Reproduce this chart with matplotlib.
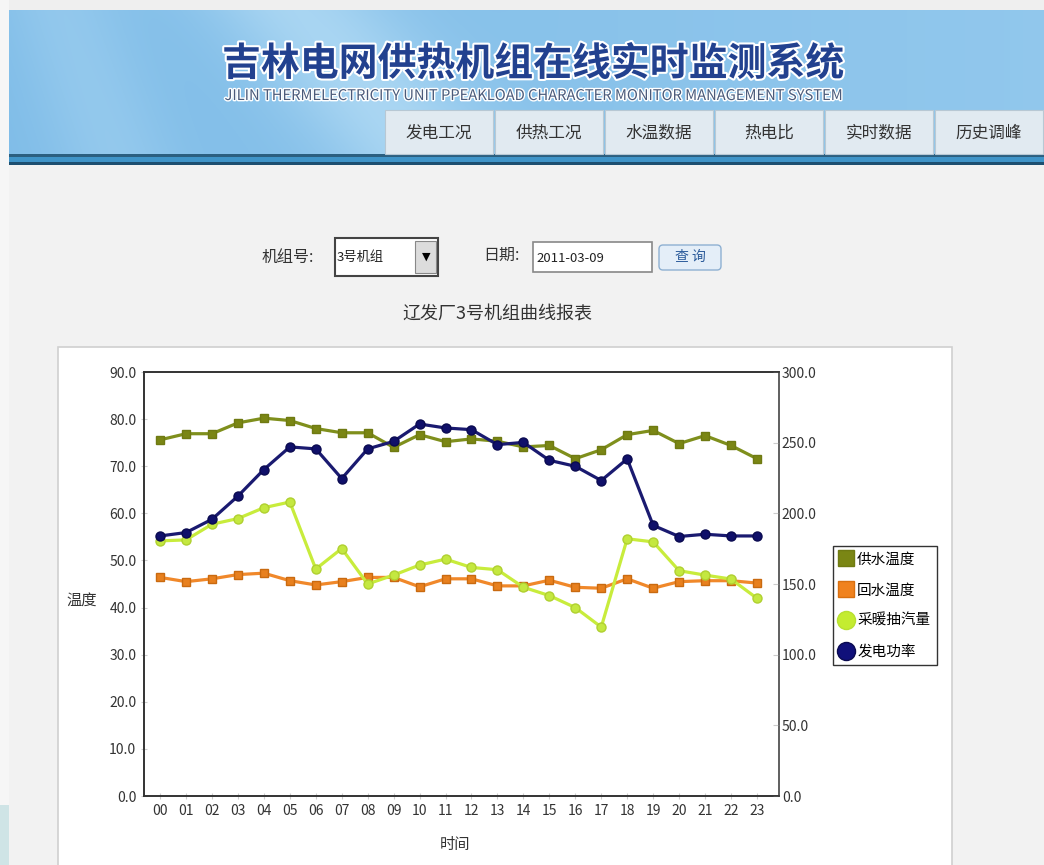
import numpy as np
import matplotlib
matplotlib.use('Agg')
import matplotlib.pyplot as plt
from matplotlib.patches import Rectangle, FancyBboxPatch
from matplotlib.lines import Line2D
import matplotlib.patheffects as pe

plt.rcParams['font.family'] = ['Noto Sans CJK SC', 'DejaVu Sans']
plt.rcParams['axes.unicode_minus'] = False

# data (hourly values)
hours = ['%02d' % h for h in range(24)]
supply_temp = [75.6, 76.9, 76.9, 79.2, 80.2, 79.7, 78.0, 77.1, 77.1, 74.0, 76.7, 75.2,
               75.8, 75.3, 74.1, 74.4, 71.6, 73.5, 76.7, 77.6, 74.8, 76.5, 74.4, 71.6]
return_temp = [46.4, 45.5, 46.1, 47.0, 47.3, 45.7, 44.8, 45.5, 46.4, 46.4, 44.4, 46.1,
               46.1, 44.6, 44.6, 45.8, 44.3, 44.1, 46.1, 44.1, 45.5, 45.7, 45.7, 45.2]
steam_flow = [180.5, 181.2, 192.3, 196.3, 204.0, 208.0, 160.6, 175.1, 150.0, 156.3, 163.4, 167.6,
              161.7, 160.1, 147.7, 141.8, 133.3, 119.5, 182.0, 179.8, 159.4, 156.3, 153.5, 139.9]
power = [184.0, 186.4, 195.8, 212.2, 231.0, 247.0, 245.6, 224.6, 245.6, 250.9, 263.2, 260.4,
         259.2, 248.6, 250.2, 237.5, 233.3, 223.2, 238.5, 191.5, 183.6, 185.2, 184.0, 184.0]

series_names = ['供水温度', '回水温度', '采暖抽汽量', '发电功率']
tabs = ['发电工况', '供热工况', '水温数据', '热电比', '实时数据', '历史调峰']

W, H = 1044, 865
fig = plt.figure(figsize=(W / 100, H / 100), dpi=100)
fig.patch.set_facecolor('#f2f2f2')

# page background drawn in pixel coordinates
bg = fig.add_axes([0, 0, 1, 1], zorder=0)
bg.set_xlim(0, W)
bg.set_ylim(H, 0)
bg.axis('off')

bg.add_patch(Rectangle((0, 0), W, 10, color='#efefef', lw=0))
bg.add_patch(Rectangle((0, 0), 9, H, color='#f6f6f6', lw=0))
bg.add_patch(Rectangle((0, 805), 9, 60, color='#cfe4e6', lw=0))

# banner gradient
bh, bw = 145, W - 9
xx, yy = np.meshgrid(np.linspace(0, 1, bw), np.linspace(0, 1, bh))
base = np.array([0.50, 0.74, 0.91])
light = np.array([0.70, 0.86, 0.96])
swoosh = np.exp(-((xx - 0.28 - 0.12 * yy) / 0.09) ** 2) * 0.7
swoosh += np.exp(-((xx - 0.05 - 0.05 * yy) / 0.06) ** 2) * 0.35
swoosh += 0.35 * xx
swoosh = np.clip(swoosh, 0, 1)
img = base[None, None, :] * (1 - swoosh[..., None]) + light[None, None, :] * swoosh[..., None]
bg.imshow(img, extent=(9, W, 155, 10), aspect='auto', zorder=1)

bg.add_patch(Rectangle((9, 154), W - 9, 3, color='#2b5f80', lw=0, zorder=2))
bg.add_patch(Rectangle((9, 157), W - 9, 5, color='#3f94c8', lw=0, zorder=2))
bg.add_patch(Rectangle((9, 162), W - 9, 3, color='#1d4f70', lw=0, zorder=2))

bg.text(533, 64, '吉林电网供热机组在线实时监测系统', fontsize=28, fontweight='bold',
        color='#22418f', ha='center', va='center', zorder=3,
        path_effects=[pe.withStroke(linewidth=3, foreground='white')])
bg.text(535, 96, 'JILIN THERMELECTRICITY UNIT PPEAKLOAD CHARACTER MONITOR MANAGEMENT SYSTEM',
        fontsize=10.6, color='#4a5a7a', ha='center', va='center', zorder=3,
        path_effects=[pe.withStroke(linewidth=2, foreground='white')])

for i, t in enumerate(tabs):
    x0 = 385 + i * 110
    bg.add_patch(Rectangle((x0, 110), 108, 44, facecolor='#e1eaf1', edgecolor='#b8c8d4',
                           lw=0.8, zorder=2))
    bg.text(x0 + 54, 133, t, fontsize=12, color='#333333', ha='center', va='center', zorder=3)

# query form
bg.text(262, 257, '机组号:', fontsize=11.5, color='#333333', va='center', zorder=3)
bg.add_patch(Rectangle((335, 238), 103, 38, facecolor='white', edgecolor='#444444', lw=1.5, zorder=2))
bg.add_patch(Rectangle((415, 241), 21, 32, facecolor='#dcdcdc', edgecolor='#888888', lw=0.8, zorder=3))
bg.text(426, 257, '▼', fontsize=8, color='black', ha='center', va='center', zorder=4,
        family=['DejaVu Sans'])
bg.text(337, 257, '3号机组', fontsize=9.5, color='#222222', va='center', zorder=4)
bg.text(483, 255, '日期:', fontsize=11.5, color='#333333', va='center', zorder=3)
bg.add_patch(Rectangle((533, 242), 119, 30, facecolor='white', edgecolor='#888888', lw=1.2, zorder=2))
bg.text(536, 258, '2011-03-09', fontsize=9.5, color='#222222', va='center', zorder=3)
bg.add_patch(FancyBboxPatch((659, 245), 62, 25, boxstyle='round,pad=0,rounding_size=4',
                            facecolor='#e4eef8', edgecolor='#8eb0d2', lw=1, zorder=2))
bg.text(690, 257, '查 询', fontsize=10, color='#2a5a9a', ha='center', va='center', zorder=3)

bg.text(497, 315, '辽发厂3号机组曲线报表', fontsize=13, color='#333333',
        ha='center', va='center', zorder=3)

# white chart panel
bg.add_patch(Rectangle((58, 347), 894, 530, facecolor='white', edgecolor='#d0d0d0', lw=1.2, zorder=2))

# chart
ax = fig.add_axes([144 / W, 1 - 796 / H, (779 - 144) / W, (796 - 372) / H], zorder=1)
ax2 = ax.twinx()
x = np.arange(len(hours))

ax.plot(x, supply_temp, color='#7f8f1c', lw=2.3, marker='s', ms=6, mfc='#7a8614', mec='#6f7a12', zorder=3)
ax.plot(x, return_temp, color='#f0882a', lw=2.3, marker='s', ms=6, mfc='#e8801e', mec='#c96a10', zorder=3)
ax2.plot(x, steam_flow, color='#c8ec3c', lw=2.3, marker='o', ms=6.5, mfc='#c4e840', mec='#b0d030', zorder=3)
ax2.plot(x, power, color='#1a1a70', lw=2.3, marker='o', ms=6.5, mfc='#10106a', mec='#0a0a50', zorder=4)

ax.set_xlim(-0.62, 23.85)
ax.set_ylim(0, 90)
ax2.set_ylim(0, 300)
ax.set_xticks(x)
ax.set_xticklabels(hours)
ax.set_yticks(np.arange(0, 91, 10))
ax.set_yticklabels(['%.1f' % v for v in np.arange(0, 91, 10)])
ax2.set_yticks(np.arange(0, 301, 50))
ax2.set_yticklabels(['%.1f' % v for v in np.arange(0, 301, 50)])

ax.tick_params(axis='both', labelsize=10, colors='#cccccc', labelcolor='#333333', length=4,
               direction='inout')
ax2.tick_params(axis='y', labelsize=10, colors='#cccccc', labelcolor='#333333', length=4,
                direction='in', pad=2)
for a in (ax, ax2):
    for s in a.spines.values():
        s.set_color('#333333')
        s.set_linewidth(1.2)
ax2.spines['right'].set_color('#666666')

fig.text(82 / W, 1 - 600 / H, '温度', fontsize=11, color='#333333', ha='center', va='center')
fig.text(455 / W, 1 - 845 / H, '时间', fontsize=11, color='#333333', ha='center', va='center')

handles = [
    Line2D([], [], ls='none', marker='s', ms=12, mfc='#7a8614', mec='#6f7a12'),
    Line2D([], [], ls='none', marker='s', ms=12, mfc='#f0821e', mec='#d87010'),
    Line2D([], [], ls='none', marker='o', ms=13, mfc='#c4ec30', mec='#b8e030'),
    Line2D([], [], ls='none', marker='o', ms=13, mfc='#10107a', mec='#0a0a50'),
]
leg = ax2.legend(handles, series_names, loc='upper left', bbox_to_anchor=(833 / W, 1 - 546 / H),
                 bbox_transform=fig.transFigure, fancybox=False, framealpha=1, edgecolor='#333333',
                 fontsize=10.5, handlelength=0.9, handletextpad=0.3, borderpad=0.45,
                 labelspacing=1.15, borderaxespad=0)
leg.get_frame().set_linewidth(1.0)

fig.savefig('out.png', dpi=100, facecolor=fig.get_facecolor())
